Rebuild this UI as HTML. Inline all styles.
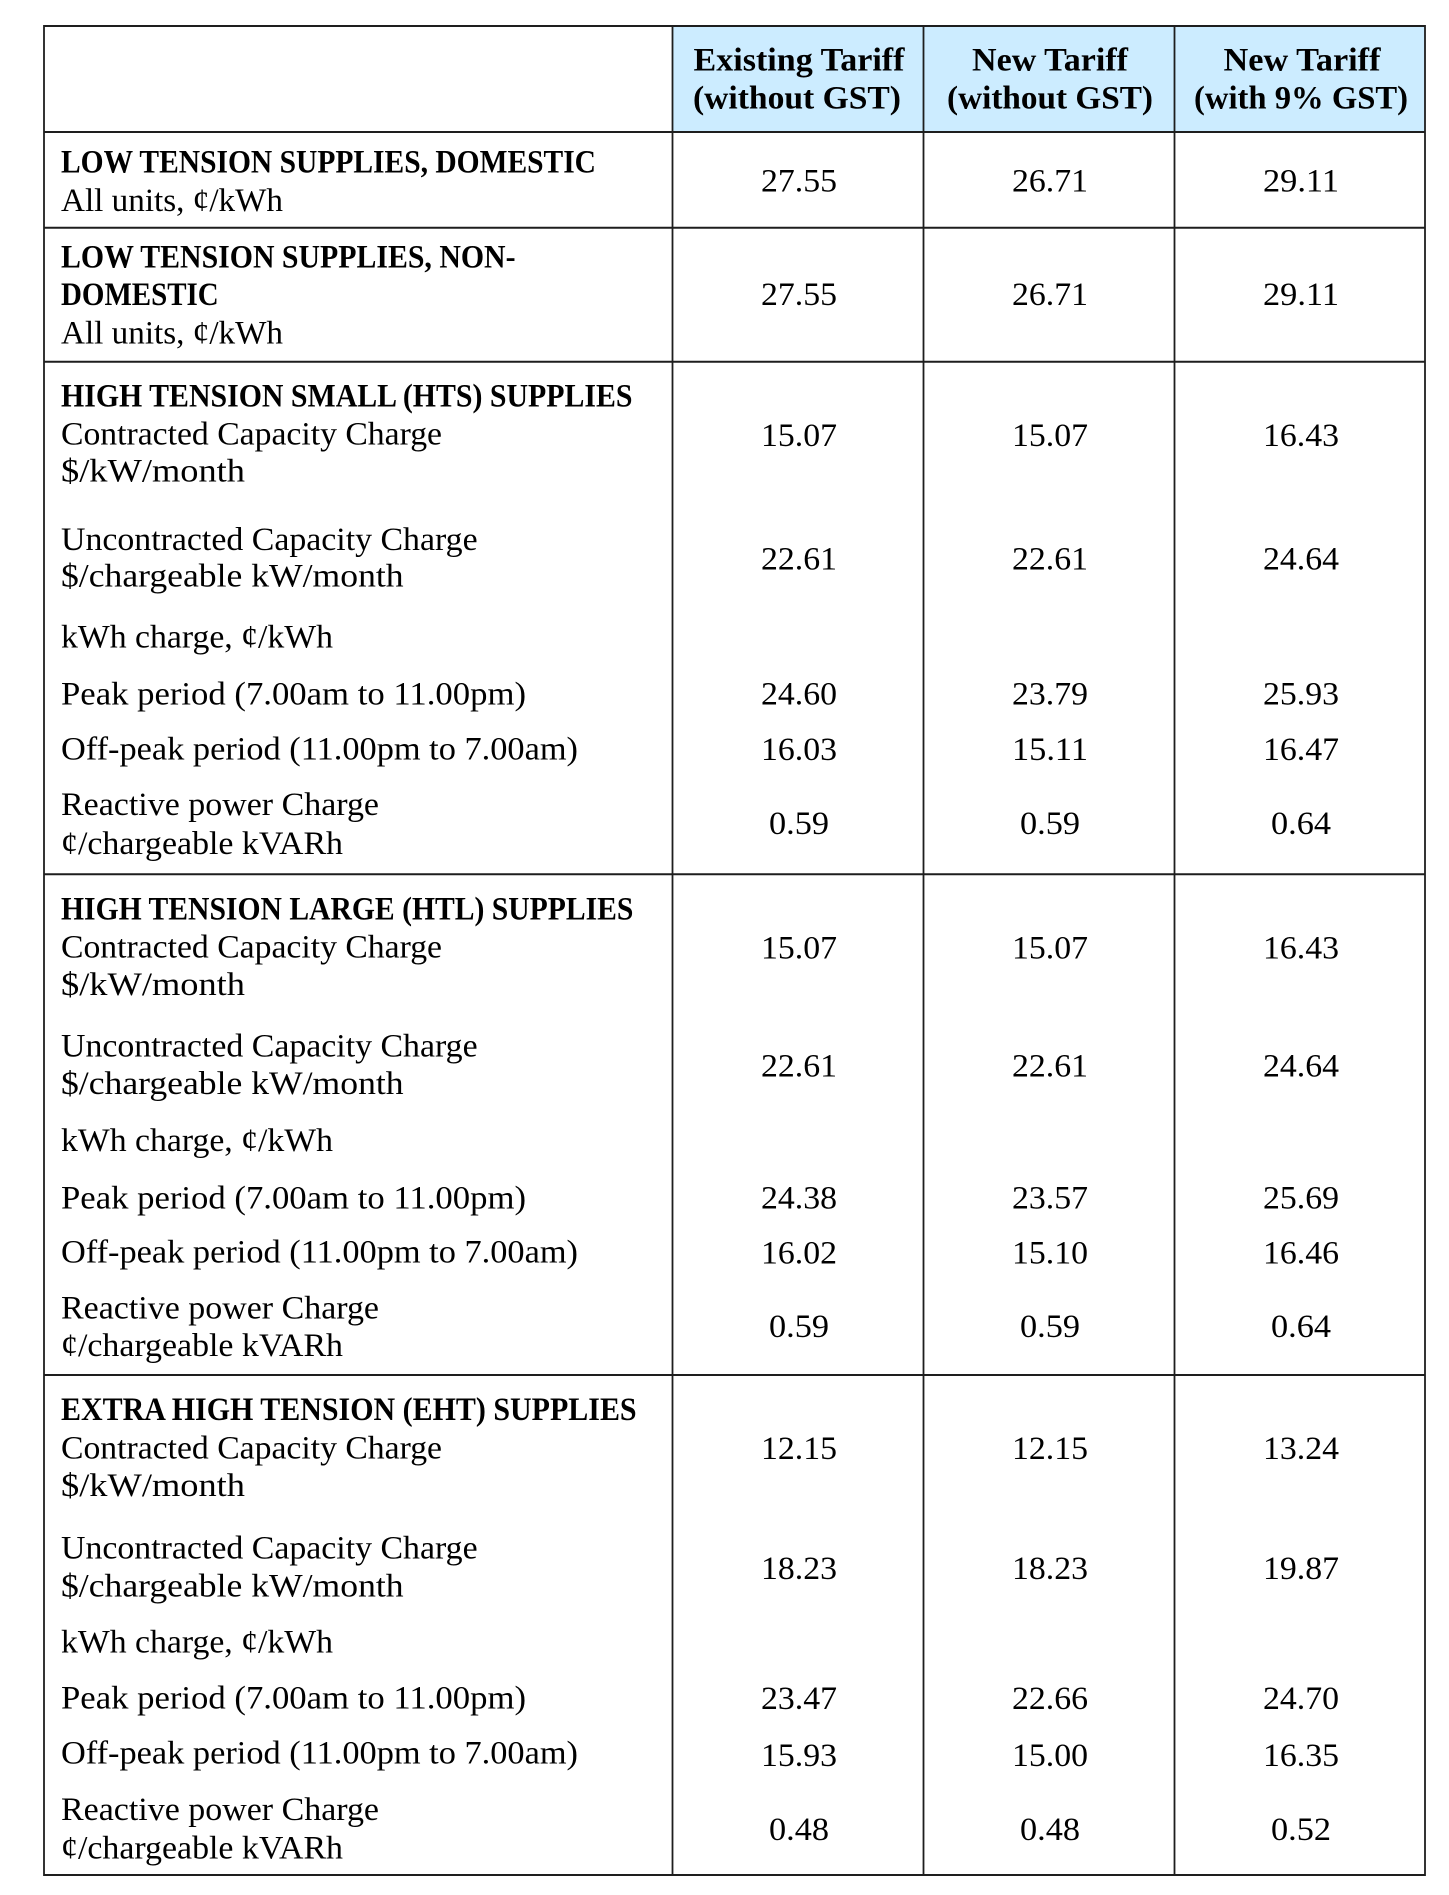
<!DOCTYPE html>
<html>
<head>
<meta charset="utf-8">
<style>
html,body{margin:0;padding:0;background:#fff;}
svg{display:block;}
text{font-family:"Liberation Serif",serif;font-size:32.5px;fill:#000;}
.b{font-weight:bold;}
</style>
</head>
<body>
<svg width="1449" height="1895" viewBox="0 0 1449 1895" xmlns="http://www.w3.org/2000/svg">
<rect x="0" y="0" width="1449" height="1895" fill="#fff"/>
<rect x="672.5" y="26" width="752.5" height="106" fill="#CCECFF"/>

<g stroke="#1e1e1e" stroke-width="2">
<line x1="44" y1="26" x2="1425" y2="26"/>
<line x1="44" y1="132" x2="1425" y2="132"/>
<line x1="44" y1="227.7" x2="1425" y2="227.7"/>
<line x1="44" y1="361.7" x2="1425" y2="361.7"/>
<line x1="44" y1="874.3" x2="1425" y2="874.3"/>
<line x1="44" y1="1375" x2="1425" y2="1375"/>
<line x1="44" y1="1875" x2="1425" y2="1875"/>
</g>
<g stroke="#1e1e1e" stroke-width="1.8">
<line x1="44" y1="25" x2="44" y2="1876"/>
<line x1="672.5" y1="25" x2="672.5" y2="1876"/>
<line x1="923.5" y1="25" x2="923.5" y2="1876"/>
<line x1="1174.5" y1="25" x2="1174.5" y2="1876"/>
<line x1="1425" y1="25" x2="1425" y2="1876"/>
</g>

<!-- Header -->
<g class="b" text-anchor="middle">
<text class="b" x="799" y="70.7" textLength="211" lengthAdjust="spacingAndGlyphs">Existing Tariff</text>
<text class="b" x="797" y="108.3" textLength="208" lengthAdjust="spacingAndGlyphs">(without GST)</text>
<text class="b" x="1050" y="70.7" textLength="156" lengthAdjust="spacingAndGlyphs">New Tariff</text>
<text class="b" x="1050" y="108.3" textLength="206" lengthAdjust="spacingAndGlyphs">(without GST)</text>
<text class="b" x="1302" y="70.7" textLength="157" lengthAdjust="spacingAndGlyphs">New Tariff</text>
<text class="b" x="1301" y="108.3" textLength="214" lengthAdjust="spacingAndGlyphs">(with 9% GST)</text>
</g>

<!-- Row 1 -->
<text class="b" x="61" y="172.7" textLength="535" lengthAdjust="spacingAndGlyphs">LOW TENSION SUPPLIES, DOMESTIC</text>
<text x="61" y="211" textLength="222" lengthAdjust="spacingAndGlyphs">All units, ¢/kWh</text>
<!-- Row 2 -->
<text class="b" x="61" y="267.7" textLength="454.5" lengthAdjust="spacingAndGlyphs">LOW TENSION SUPPLIES, NON-</text>
<text class="b" x="61" y="305" textLength="157.7" lengthAdjust="spacingAndGlyphs">DOMESTIC</text>
<text x="61" y="343.3" textLength="222" lengthAdjust="spacingAndGlyphs">All units, ¢/kWh</text>

<!-- HTS -->
<text class="b" x="61" y="406.7" textLength="571.5" lengthAdjust="spacingAndGlyphs">HIGH TENSION SMALL (HTS) SUPPLIES</text>
<text x="61" y="444.3" textLength="381" lengthAdjust="spacingAndGlyphs">Contracted Capacity Charge</text>
<text x="61" y="481.7" textLength="184" lengthAdjust="spacingAndGlyphs">$/kW/month</text>
<text x="61" y="550" textLength="416.6" lengthAdjust="spacingAndGlyphs">Uncontracted Capacity Charge</text>
<text x="61" y="586.7" textLength="342.6" lengthAdjust="spacingAndGlyphs">$/chargeable kW/month</text>
<text x="61" y="647.3" textLength="272" lengthAdjust="spacingAndGlyphs">kWh charge, ¢/kWh</text>
<text x="61" y="704.3" textLength="465" lengthAdjust="spacingAndGlyphs">Peak period (7.00am to 11.00pm)</text>
<text x="61" y="759.3" textLength="517" lengthAdjust="spacingAndGlyphs">Off-peak period (11.00pm to 7.00am)</text>
<text x="61" y="815" textLength="318" lengthAdjust="spacingAndGlyphs">Reactive power Charge</text>
<text x="61" y="854" textLength="282" lengthAdjust="spacingAndGlyphs">¢/chargeable kVARh</text>

<!-- HTL -->
<text class="b" x="61" y="919.3" textLength="572.4" lengthAdjust="spacingAndGlyphs">HIGH TENSION LARGE (HTL) SUPPLIES</text>
<text x="61" y="957.3" textLength="381" lengthAdjust="spacingAndGlyphs">Contracted Capacity Charge</text>
<text x="61" y="995" textLength="184" lengthAdjust="spacingAndGlyphs">$/kW/month</text>
<text x="61" y="1056.7" textLength="416.6" lengthAdjust="spacingAndGlyphs">Uncontracted Capacity Charge</text>
<text x="61" y="1094" textLength="342.6" lengthAdjust="spacingAndGlyphs">$/chargeable kW/month</text>
<text x="61" y="1151" textLength="272" lengthAdjust="spacingAndGlyphs">kWh charge, ¢/kWh</text>
<text x="61" y="1208.3" textLength="465" lengthAdjust="spacingAndGlyphs">Peak period (7.00am to 11.00pm)</text>
<text x="61" y="1262.3" textLength="517" lengthAdjust="spacingAndGlyphs">Off-peak period (11.00pm to 7.00am)</text>
<text x="61" y="1318.3" textLength="318" lengthAdjust="spacingAndGlyphs">Reactive power Charge</text>
<text x="61" y="1356" textLength="282" lengthAdjust="spacingAndGlyphs">¢/chargeable kVARh</text>

<!-- EHT -->
<text class="b" x="61" y="1420" textLength="575.6" lengthAdjust="spacingAndGlyphs">EXTRA HIGH TENSION (EHT) SUPPLIES</text>
<text x="61" y="1458.3" textLength="381" lengthAdjust="spacingAndGlyphs">Contracted Capacity Charge</text>
<text x="61" y="1496" textLength="184" lengthAdjust="spacingAndGlyphs">$/kW/month</text>
<text x="61" y="1558.3" textLength="416.6" lengthAdjust="spacingAndGlyphs">Uncontracted Capacity Charge</text>
<text x="61" y="1596.7" textLength="342.6" lengthAdjust="spacingAndGlyphs">$/chargeable kW/month</text>
<text x="61" y="1652.3" textLength="272" lengthAdjust="spacingAndGlyphs">kWh charge, ¢/kWh</text>
<text x="61" y="1708.3" textLength="465" lengthAdjust="spacingAndGlyphs">Peak period (7.00am to 11.00pm)</text>
<text x="61" y="1763.3" textLength="517" lengthAdjust="spacingAndGlyphs">Off-peak period (11.00pm to 7.00am)</text>
<text x="61" y="1820" textLength="318" lengthAdjust="spacingAndGlyphs">Reactive power Charge</text>
<text x="61" y="1858.3" textLength="282" lengthAdjust="spacingAndGlyphs">¢/chargeable kVARh</text>

<!-- Numbers -->
<g text-anchor="middle">
<text x="799" y="191.7" textLength="76" lengthAdjust="spacingAndGlyphs">27.55</text>
<text x="1050" y="191.7" textLength="76" lengthAdjust="spacingAndGlyphs">26.71</text>
<text x="1301" y="191.7" textLength="76" lengthAdjust="spacingAndGlyphs">29.11</text>

<text x="799" y="305" textLength="76" lengthAdjust="spacingAndGlyphs">27.55</text>
<text x="1050" y="305" textLength="76" lengthAdjust="spacingAndGlyphs">26.71</text>
<text x="1301" y="305" textLength="76" lengthAdjust="spacingAndGlyphs">29.11</text>

<text x="799" y="446" textLength="76" lengthAdjust="spacingAndGlyphs">15.07</text>
<text x="1050" y="446" textLength="76" lengthAdjust="spacingAndGlyphs">15.07</text>
<text x="1301" y="446" textLength="76" lengthAdjust="spacingAndGlyphs">16.43</text>
<text x="799" y="569.3" textLength="76" lengthAdjust="spacingAndGlyphs">22.61</text>
<text x="1050" y="569.3" textLength="76" lengthAdjust="spacingAndGlyphs">22.61</text>
<text x="1301" y="569.3" textLength="76" lengthAdjust="spacingAndGlyphs">24.64</text>
<text x="799" y="704.3" textLength="76" lengthAdjust="spacingAndGlyphs">24.60</text>
<text x="1050" y="704.3" textLength="76" lengthAdjust="spacingAndGlyphs">23.79</text>
<text x="1301" y="704.3" textLength="76" lengthAdjust="spacingAndGlyphs">25.93</text>
<text x="799" y="760" textLength="76" lengthAdjust="spacingAndGlyphs">16.03</text>
<text x="1050" y="760" textLength="76" lengthAdjust="spacingAndGlyphs">15.11</text>
<text x="1301" y="760" textLength="76" lengthAdjust="spacingAndGlyphs">16.47</text>
<text x="799" y="834" textLength="60" lengthAdjust="spacingAndGlyphs">0.59</text>
<text x="1050" y="834" textLength="60" lengthAdjust="spacingAndGlyphs">0.59</text>
<text x="1301" y="834" textLength="60" lengthAdjust="spacingAndGlyphs">0.64</text>

<text x="799" y="958.3" textLength="76" lengthAdjust="spacingAndGlyphs">15.07</text>
<text x="1050" y="958.3" textLength="76" lengthAdjust="spacingAndGlyphs">15.07</text>
<text x="1301" y="958.3" textLength="76" lengthAdjust="spacingAndGlyphs">16.43</text>
<text x="799" y="1076.5" textLength="76" lengthAdjust="spacingAndGlyphs">22.61</text>
<text x="1050" y="1076.5" textLength="76" lengthAdjust="spacingAndGlyphs">22.61</text>
<text x="1301" y="1076.5" textLength="76" lengthAdjust="spacingAndGlyphs">24.64</text>
<text x="799" y="1208.3" textLength="76" lengthAdjust="spacingAndGlyphs">24.38</text>
<text x="1050" y="1208.3" textLength="76" lengthAdjust="spacingAndGlyphs">23.57</text>
<text x="1301" y="1208.3" textLength="76" lengthAdjust="spacingAndGlyphs">25.69</text>
<text x="799" y="1263.3" textLength="76" lengthAdjust="spacingAndGlyphs">16.02</text>
<text x="1050" y="1263.3" textLength="76" lengthAdjust="spacingAndGlyphs">15.10</text>
<text x="1301" y="1263.3" textLength="76" lengthAdjust="spacingAndGlyphs">16.46</text>
<text x="799" y="1337" textLength="60" lengthAdjust="spacingAndGlyphs">0.59</text>
<text x="1050" y="1337" textLength="60" lengthAdjust="spacingAndGlyphs">0.59</text>
<text x="1301" y="1337" textLength="60" lengthAdjust="spacingAndGlyphs">0.64</text>

<text x="799" y="1459" textLength="76" lengthAdjust="spacingAndGlyphs">12.15</text>
<text x="1050" y="1459" textLength="76" lengthAdjust="spacingAndGlyphs">12.15</text>
<text x="1301" y="1459" textLength="76" lengthAdjust="spacingAndGlyphs">13.24</text>
<text x="799" y="1579" textLength="76" lengthAdjust="spacingAndGlyphs">18.23</text>
<text x="1050" y="1579" textLength="76" lengthAdjust="spacingAndGlyphs">18.23</text>
<text x="1301" y="1579" textLength="76" lengthAdjust="spacingAndGlyphs">19.87</text>
<text x="799" y="1709" textLength="76" lengthAdjust="spacingAndGlyphs">23.47</text>
<text x="1050" y="1709" textLength="76" lengthAdjust="spacingAndGlyphs">22.66</text>
<text x="1301" y="1709" textLength="76" lengthAdjust="spacingAndGlyphs">24.70</text>
<text x="799" y="1766" textLength="76" lengthAdjust="spacingAndGlyphs">15.93</text>
<text x="1050" y="1766" textLength="76" lengthAdjust="spacingAndGlyphs">15.00</text>
<text x="1301" y="1766" textLength="76" lengthAdjust="spacingAndGlyphs">16.35</text>
<text x="799" y="1840" textLength="60" lengthAdjust="spacingAndGlyphs">0.48</text>
<text x="1050" y="1840" textLength="60" lengthAdjust="spacingAndGlyphs">0.48</text>
<text x="1301" y="1840" textLength="60" lengthAdjust="spacingAndGlyphs">0.52</text>
</g>
</svg>
</body>
</html>
